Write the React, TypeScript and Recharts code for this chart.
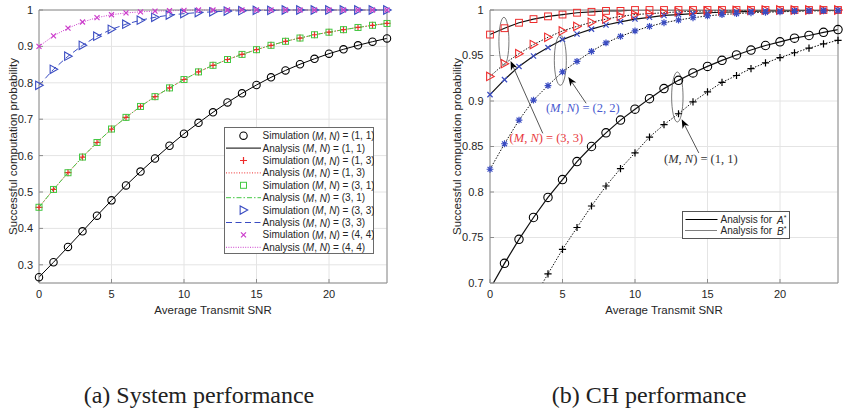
import { LineChart, Line, XAxis, YAxis, CartesianGrid, Legend, ReferenceDot, ReferenceLine } from "recharts";

// average transmit SNR grid
const snr = [0, 1, 2, 3, 4, 5, 6, 7, 8, 9, 10, 11, 12, 13, 14, 15, 16, 17, 18, 19, 20, 21, 22, 23, 24];

// (a) system performance, (M, N) pairs
const sys11 = [0.266, 0.307, 0.349, 0.392, 0.435, 0.477, 0.518, 0.556, 0.592, 0.627, 0.66, 0.69, 0.719, 0.746, 0.771, 0.794, 0.815, 0.834, 0.851, 0.866, 0.88, 0.892, 0.903, 0.913, 0.922];
const sys13 = [0.458, 0.507, 0.553, 0.596, 0.636, 0.673, 0.705, 0.735, 0.762, 0.786, 0.809, 0.83, 0.848, 0.864, 0.878, 0.891, 0.903, 0.914, 0.923, 0.932, 0.939, 0.946, 0.952, 0.958, 0.963];
const sys31 = [0.458, 0.507, 0.553, 0.596, 0.636, 0.673, 0.705, 0.735, 0.762, 0.786, 0.809, 0.83, 0.848, 0.864, 0.878, 0.891, 0.903, 0.914, 0.923, 0.932, 0.939, 0.946, 0.952, 0.958, 0.963];
const sys33 = [0.793, 0.837, 0.873, 0.903, 0.928, 0.947, 0.961, 0.972, 0.98, 0.986, 0.99, 0.993, 0.995, 0.997, 0.998, 0.999, 0.999, 1, 1, 1, 1, 1, 1, 1, 1];
const sys44 = [0.9, 0.929, 0.95, 0.967, 0.979, 0.987, 0.992, 0.995, 0.997, 0.998, 0.999, 1, 1, 1, 1, 1, 1, 1, 1, 1, 1, 1, 1, 1, 1];

// (b) CH performance, A* and B*
const chA33 = [0.973, 0.98, 0.986, 0.99, 0.993, 0.995, 0.997, 0.998, 0.999, 0.999, 1, 1, 1, 1, 1, 1, 1, 1, 1, 1, 1, 1, 1, 1, 1];
const chB33 = [0.927, 0.941, 0.952, 0.962, 0.97, 0.977, 0.982, 0.9865, 0.99, 0.993, 0.995, 0.996, 0.997, 0.998, 0.9985, 0.999, 0.999, 0.9995, 0.9995, 1, 1, 1, 1, 1, 1];
const chA22 = [0.907, 0.9235, 0.938, 0.9495, 0.9587, 0.9675, 0.9736, 0.979, 0.9835, 0.987, 0.99, 0.992, 0.994, 0.995, 0.996, 0.997, 0.9975, 0.998, 0.9985, 0.999, 0.999, 0.9993, 0.9995, 0.9996, 0.9997];
const chB22 = [0.825, 0.853, 0.879, 0.901, 0.917, 0.932, 0.9436, 0.9546, 0.9638, 0.971, 0.977, 0.982, 0.986, 0.989, 0.9915, 0.9935, 0.995, 0.996, 0.997, 0.9975, 0.998, 0.9985, 0.999, 0.999, 0.9993];
const chA11 = [0.6935, 0.7216, 0.748, 0.772, 0.794, 0.8136, 0.8334, 0.85, 0.865, 0.879, 0.891, 0.9026, 0.9136, 0.9227, 0.9308, 0.938, 0.9447, 0.9506, 0.956, 0.961, 0.965, 0.969, 0.972, 0.9755, 0.9785];
const chB11 = [0.596, 0.626, 0.655, 0.683, 0.71, 0.737, 0.761, 0.7846, 0.8066, 0.8257, 0.843, 0.8604, 0.874, 0.886, 0.899, 0.91, 0.9205, 0.928, 0.9356, 0.9418, 0.9477, 0.953, 0.958, 0.9627, 0.9667];

const xTicks = [0, 5, 10, 15, 20];
const sysTicks = [0.3, 0.4, 0.5, 0.6, 0.7, 0.8, 0.9, 1];
const chTicks = [0.7, 0.75, 0.8, 0.85, 0.9, 0.95, 1];

const RED = "#ee2c2c";
const GREEN = "#44c844";
const BLUE = "#3a4cc2";
const MAGENTA = "#cc3dcc";
const AXIS = "#8c8c8c";
const GRID = "#e4e4e4";
const TXT = "#262626";
const SANS = "'Liberation Sans', Arial, Helvetica, sans-serif";
const SERIF = "'Liberation Serif', 'Times New Roman', serif";

const sysRows = snr.map((x, i) => ({ snr: x, s11: sys11[i], s13: sys13[i], s31: sys31[i], s33: sys33[i], s44: sys44[i] }));

const CH_MIN = 0.7;
const vis = (v: number) => (v >= CH_MIN ? v : null);
const chRows = snr.map((x, i) => ({
  snr: x,
  a33: chA33[i], b33: chB33[i], a22: chA22[i], b22: chB22[i], a11: chA11[i], b11: chB11[i],
  ma33: vis(chA33[i]), mb33: vis(chB33[i]), ma22: vis(chA22[i]), mb22: vis(chB22[i]), ma11: vis(chA11[i]), mb11: vis(chB11[i]),
}));

const sysSeries = [
  { key: "s11", pair: "(1, 1)", color: "#000", dash: undefined, marker: "circle", size: 3.7 },
  { key: "s13", pair: "(1, 3)", color: RED, dash: "1 1.6", marker: "plus", size: 3.5 },
  { key: "s31", pair: "(3, 1)", color: GREEN, dash: "5 2 1.5 2", marker: "square", size: 3 },
  { key: "s33", pair: "(3, 3)", color: BLUE, dash: "6 3.5", marker: "tri", size: 4.2 },
  { key: "s44", pair: "(4, 4)", color: MAGENTA, dash: "1 1.4", marker: "cross", size: 2.5 },
];

const chSeries = [
  { key: "a33", color: RED, dash: undefined, marker: "square", size: 3.4 },
  { key: "b33", color: RED, dash: "1.5 1.5", marker: "tri", size: 4.2 },
  { key: "a22", color: BLUE, dash: undefined, marker: "cross", size: 2.6 },
  { key: "b22", color: BLUE, dash: "1.5 1.5", marker: "star", size: 3.4 },
  { key: "a11", color: "#000", dash: undefined, marker: "circle", size: 4.2 },
  { key: "b11", color: "#000", dash: "1.5 1.5", marker: "plus", size: 3.6 },
];

// annotation placements in data units of panel (b)
const ellipses = [
  { x: 0.96, y: 0.9656, rx: 5, ry: 24 },
  { x: 4.85, y: 0.9447, rx: 6, ry: 25 },
  { x: 12.92, y: 0.9044, rx: 5.7, ry: 25 },
];
const arrows = [
  { from: [3.64, 0.8645], to: [1.42, 0.944] },
  { from: [6.63, 0.8975], to: [5.4, 0.9264] },
  { from: [14.4, 0.8429], to: [13.22, 0.8799] },
];
const notes = [
  { x: 3.89, y: 0.859, pair: "(3, 3)", color: "#e8383d" },
  { x: 6.4, y: 0.8927, pair: "(2, 2)", color: "#4a5bd0" },
  { x: 14.54, y: 0.836, pair: "(1, 1)", color: "#333" },
];

function Marker({ kind, cx, cy, color, s }: any) {
  switch (kind) {
    case "circle":
      return <circle cx={cx} cy={cy} r={s} fill="none" stroke={color} strokeWidth={1.1} />;
    case "square":
      return <rect x={cx - s} y={cy - s} width={2 * s} height={2 * s} fill="none" stroke={color} strokeWidth={1} />;
    case "plus":
      return <path d={`M${cx - s},${cy}H${cx + s}M${cx},${cy - s}V${cy + s}`} stroke={color} strokeWidth={1.2} />;
    case "cross":
      return <path d={`M${cx - s},${cy - s}L${cx + s},${cy + s}M${cx - s},${cy + s}L${cx + s},${cy - s}`} stroke={color} strokeWidth={1.2} />;
    case "tri":
      return <path d={`M${cx + s},${cy}L${cx - s * 0.8},${cy - s}L${cx - s * 0.8},${cy + s}Z`} fill="none" stroke={color} strokeWidth={1.1} />;
    case "star": {
      const d = s * 0.72;
      return (
        <path
          d={`M${cx - s},${cy}H${cx + s}M${cx},${cy - s}V${cy + s}M${cx - d},${cy - d}L${cx + d},${cy + d}M${cx - d},${cy + d}L${cx + d},${cy - d}`}
          stroke={color}
          strokeWidth={1.2}
        />
      );
    }
    default:
      return null;
  }
}

const dotOf = (kind: string, color: string, s: number) => (p: any) => {
  if (p.cx == null || p.cy == null || p.value == null) return <g key={`d${p.index}`} />;
  return <Marker key={`d${p.index}`} kind={kind} cx={p.cx} cy={p.cy} color={color} s={s} />;
};

const tickStyle = { fill: TXT, fontSize: 11, fontFamily: SANS };

const xLabel = (p: any) => {
  const vb = p.viewBox;
  return (
    <text x={vb.x + vb.width / 2} y={vb.y + 27} textAnchor="middle" dominantBaseline="central" fill={TXT} fontSize={11.5} fontFamily={SANS}>
      Average Transmit SNR
    </text>
  );
};

const yLabel = (dx: number) => (p: any) => {
  const vb = p.viewBox;
  const cx = vb.x + dx;
  const cy = vb.y + vb.height / 2;
  return (
    <text transform={`translate(${cx},${cy}) rotate(-90)`} textAnchor="middle" dominantBaseline="central" fill={TXT} fontSize={11.5} fontFamily={SANS}>
      Successful computation probability
    </text>
  );
};

const MN = () => (
  <>
    (<tspan fontStyle="italic">M</tspan>, <tspan fontStyle="italic">N</tspan>)
  </>
);

function SystemLegend() {
  const rowH = 12.4;
  return (
    <svg width={150} height={127} style={{ display: "block" }}>
      <rect x={0.5} y={0.5} width={149} height={126} fill="#fff" stroke="#6a6a6a" />
      {sysSeries.map((s, i) => {
        const y1 = 8.7 + i * 2 * rowH;
        const y2 = y1 + rowH;
        return (
          <g key={s.key}>
            <Marker kind={s.marker} cx={19.5} cy={y1} color={s.color} s={s.size} />
            <text x={38.5} y={y1} dominantBaseline="central" fontSize={10} fontFamily={SANS} fill={TXT}>
              Simulation <MN /> = {s.pair}
            </text>
            <line x1={2} x2={37} y1={y2} y2={y2} stroke={s.color} strokeWidth={1} strokeDasharray={s.dash} />
            <text x={38.5} y={y2} dominantBaseline="central" fontSize={10} fontFamily={SANS} fill={TXT}>
              Analysis <MN /> = {s.pair}
            </text>
          </g>
        );
      })}
    </svg>
  );
}

function ChLegend() {
  return (
    <svg width={108} height={28} style={{ display: "block" }}>
      <rect x={0.5} y={0.5} width={107} height={27} fill="#fff" stroke="#555" />
      <line x1={3.5} x2={35.5} y1={8.5} y2={8.5} stroke="#000" strokeWidth={1.1} />
      <text x={38.5} y={8.5} dominantBaseline="central" fontSize={10} fontFamily={SANS} fill={TXT}>
        Analysis for <tspan dx={2} fontStyle="italic">A</tspan>
        <tspan fontSize={7} dy={-3}>*</tspan>
      </text>
      <line x1={3.5} x2={35.5} y1={19.5} y2={19.5} stroke="#000" strokeWidth={1} strokeDasharray="1 1" />
      <text x={38.5} y={19.5} dominantBaseline="central" fontSize={10} fontFamily={SANS} fill={TXT}>
        Analysis for <tspan dx={2} fontStyle="italic">B</tspan>
        <tspan fontSize={7} dy={-3}>*</tspan>
      </text>
    </svg>
  );
}

function Arrow(p: any) {
  const { x1, y1, x2, y2 } = p;
  const dx = x2 - x1;
  const dy = y2 - y1;
  const len = Math.sqrt(dx * dx + dy * dy) || 1;
  const ux = dx / len;
  const uy = dy / len;
  const nx = -uy;
  const ny = ux;
  const L = 9;
  const w = 3.6;
  const bx = x2 - ux * L;
  const by = y2 - uy * L;
  const mx = x2 - ux * L * 0.7;
  const my = y2 - uy * L * 0.7;
  return (
    <g>
      <line x1={x1} y1={y1} x2={mx} y2={my} stroke="#444" strokeWidth={0.9} />
      <path d={`M${x2},${y2}L${bx + nx * w},${by + ny * w}L${mx},${my}L${bx - nx * w},${by - ny * w}Z`} fill="#000" />
    </g>
  );
}

const axisProps = { axisLine: { stroke: AXIS }, tickLine: { stroke: AXIS }, tickSize: -4 };

function SystemChart() {
  return (
    <LineChart width={420} height={413} data={sysRows} margin={{ top: 9, right: 32, left: 0, bottom: 100 }}>
      <CartesianGrid stroke={GRID} />
      <XAxis dataKey="snr" type="number" domain={[0, 24]} ticks={xTicks} height={30} tickMargin={11} tick={tickStyle} label={xLabel} {...axisProps} />
      <XAxis xAxisId="top" orientation="top" type="number" domain={[0, 24]} ticks={xTicks} height={1} tick={false} {...axisProps} />
      <YAxis type="number" domain={[0.25, 1]} ticks={sysTicks} width={39} tickMargin={10} tick={tickStyle} label={yLabel(13)} {...axisProps} />
      <YAxis yAxisId="r" orientation="right" type="number" domain={[0.25, 1]} ticks={sysTicks} width={1} tick={false} {...axisProps} />
      {sysSeries.map((s) => (
        <Line key={`a-${s.key}`} type="linear" dataKey={s.key} stroke={s.color} strokeWidth={1} strokeDasharray={s.dash} dot={false} activeDot={false} isAnimationActive={false} />
      ))}
      {sysSeries.map((s) => (
        <Line key={`s-${s.key}`} type="linear" dataKey={s.key} stroke="none" dot={dotOf(s.marker, s.color, s.size)} activeDot={false} isAnimationActive={false} />
      ))}
      <Legend content={() => <SystemLegend />} layout="vertical" align="center" verticalAlign="middle" wrapperStyle={{ left: 224, top: 127, width: 150 }} />
    </LineChart>
  );
}

function ChChart() {
  return (
    <LineChart width={423} height={413} data={chRows} margin={{ top: 9, right: 4, left: 0, bottom: 100 }}>
      <CartesianGrid stroke={GRID} />
      <XAxis dataKey="snr" type="number" domain={[0, 24]} ticks={xTicks} height={30} tickMargin={11} tick={tickStyle} label={xLabel} {...axisProps} />
      <XAxis xAxisId="top" orientation="top" type="number" domain={[0, 24]} ticks={xTicks} height={1} tick={false} {...axisProps} />
      <YAxis type="number" domain={[CH_MIN, 1]} allowDataOverflow ticks={chTicks} width={70} tickMargin={10.5} tick={tickStyle} label={yLabel(36.7)} {...axisProps} />
      <YAxis yAxisId="r" orientation="right" type="number" domain={[CH_MIN, 1]} ticks={chTicks} width={1} tick={false} {...axisProps} />
      <YAxis yAxisId="m" hide type="number" domain={[CH_MIN, 1]} />
      {chSeries.map((s) => (
        <Line key={`a-${s.key}`} type="linear" dataKey={s.key} stroke="#111" strokeWidth={s.dash ? 1 : 1.2} strokeDasharray={s.dash} dot={false} activeDot={false} isAnimationActive={false} />
      ))}
      {chSeries.map((s) => (
        <Line key={`m-${s.key}`} yAxisId="m" type="linear" dataKey={`m${s.key}`} stroke="none" dot={dotOf(s.marker, s.color, s.size)} activeDot={false} isAnimationActive={false} />
      ))}
      {ellipses.map((e, i) => (
        <ReferenceDot
          key={`e${i}`}
          yAxisId="m"
          x={e.x}
          y={e.y}
          shape={(p: any) => <ellipse cx={p.cx} cy={p.cy} rx={e.rx} ry={e.ry} fill="none" stroke="#555" strokeWidth={0.8} />}
        />
      ))}
      {arrows.map((a, i) => (
        <ReferenceLine
          key={`ar${i}`}
          yAxisId="m"
          segment={[{ x: a.from[0], y: a.from[1] }, { x: a.to[0], y: a.to[1] }]}
          shape={(p: any) => <Arrow {...p} />}
        />
      ))}
      {notes.map((n, i) => (
        <ReferenceDot
          key={`n${i}`}
          yAxisId="m"
          x={n.x}
          y={n.y}
          shape={(p: any) => (
            <text x={p.cx} y={p.cy} textAnchor="middle" dominantBaseline="central" fontSize={12.5} fontFamily={SERIF} fill={n.color}>
              (<tspan fontStyle="italic">M</tspan>, <tspan fontStyle="italic">N</tspan>) = {n.pair}
            </text>
          )}
        />
      ))}
      <Legend content={() => <ChLegend />} layout="vertical" align="center" verticalAlign="middle" wrapperStyle={{ left: 262, top: 211, width: 108 }} />
    </LineChart>
  );
}

const captionStyle = {
  position: "absolute" as const,
  top: 383,
  width: 400,
  textAlign: "center" as const,
  fontFamily: SERIF,
  fontSize: 24,
  lineHeight: "24px",
  color: "#222",
  whiteSpace: "nowrap" as const,
};

export default function App() {
  return (
    <div style={{ position: "absolute", left: 0, top: 0, width: 843, height: 413, background: "#fff", overflow: "hidden" }}>
      <div style={{ position: "absolute", left: 0, top: 0 }}>
        <SystemChart />
      </div>
      <div style={{ position: "absolute", left: 420, top: 0 }}>
        <ChChart />
      </div>
      <div style={{ ...captionStyle, left: 199 - 200 }}>(a) System performance</div>
      <div style={{ ...captionStyle, left: 649 - 200 }}>(b) CH performance</div>
    </div>
  );
}
